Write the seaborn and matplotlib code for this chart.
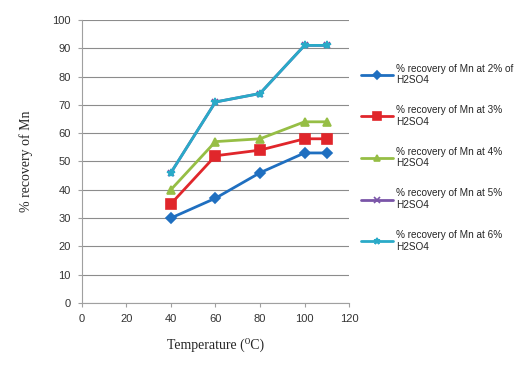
import matplotlib
matplotlib.use("Agg")
import matplotlib.pyplot as plt
import seaborn as sns
import pandas as pd

# temperature (C) and % recovery of Mn for each H2SO4 strength
temperature = [40, 60, 80, 100, 110]
rec_2 = [30, 37, 46, 53, 53]
rec_3 = [35, 52, 54, 58, 58]
rec_4 = [40, 57, 58, 64, 64]
rec_5 = [46, 71, 74, 91, 91]
rec_6 = [46, 71, 74, 91, 91]

labels = [
    "% recovery of Mn at 2% of\nH2SO4",
    "% recovery of Mn at 3%\nH2SO4",
    "% recovery of Mn at 4%\nH2SO4",
    "% recovery of Mn at 5%\nH2SO4",
    "% recovery of Mn at 6%\nH2SO4",
]
series = [rec_2, rec_3, rec_4, rec_5, rec_6]

rows = []
for lab, vals in zip(labels, series):
    for t, v in zip(temperature, vals):
        rows.append({"Temperature": t, "Recovery": v, "Series": lab})
df = pd.DataFrame(rows)

sns.set_style("white")
plt.rcParams['font.family'] = ['Liberation Sans', 'DejaVu Sans']

colors = ["#1f6fc0", "#e0262b", "#96be45", "#7a55a8", "#2aaac8"]
marks = ["D", "s", "^", "x", "*"]
sizes = [5, 7, 6, 5, 6]

fig = plt.figure(figsize=(5.21, 3.69), dpi=100)
ax = fig.add_axes([0.157, 0.179, 0.513, 0.767])

for lab, col, mk, ms in zip(labels, colors, marks, sizes):
    sub = df[df["Series"] == lab]
    sns.lineplot(data=sub, x="Temperature", y="Recovery", color=col,
                 marker=mk, markersize=ms, markeredgecolor=col,
                 markeredgewidth=1.2, linewidth=2, label=lab, ax=ax,
                 errorbar=None)

ax.set_xlim(0, 120)
ax.set_ylim(0, 100)
ax.set_xticks(range(0, 121, 20))
ax.set_yticks(range(0, 101, 10))
ax.tick_params(labelsize=8, length=3, color="#a0a0a0", labelcolor="#333333",
               direction="out", left=True, bottom=True, pad=5)
ax.grid(axis="y", color="#8c8c8c", linewidth=0.8)
ax.set_axisbelow(True)
for s in ["top", "right"]:
    ax.spines[s].set_visible(False)
for s in ["left", "bottom"]:
    ax.spines[s].set_color("#a0a0a0")
    ax.spines[s].set_linewidth(0.8)

serif = ["Liberation Serif", "DejaVu Serif", "DejaVu Sans"]
ax.set_xlabel("Temperature (\u2070C)", family=serif, fontsize=10, labelpad=10)
ax.set_ylabel("% recovery of Mn", family=serif, fontsize=10, labelpad=14)

ax.legend(loc="upper left", bbox_to_anchor=(1.03, 0.86), frameon=False,
          fontsize=7.2, labelspacing=2.0, handlelength=3.2, handletextpad=0.3,
          borderaxespad=0, markerscale=0.8)

fig.savefig("out.png", dpi=100)
